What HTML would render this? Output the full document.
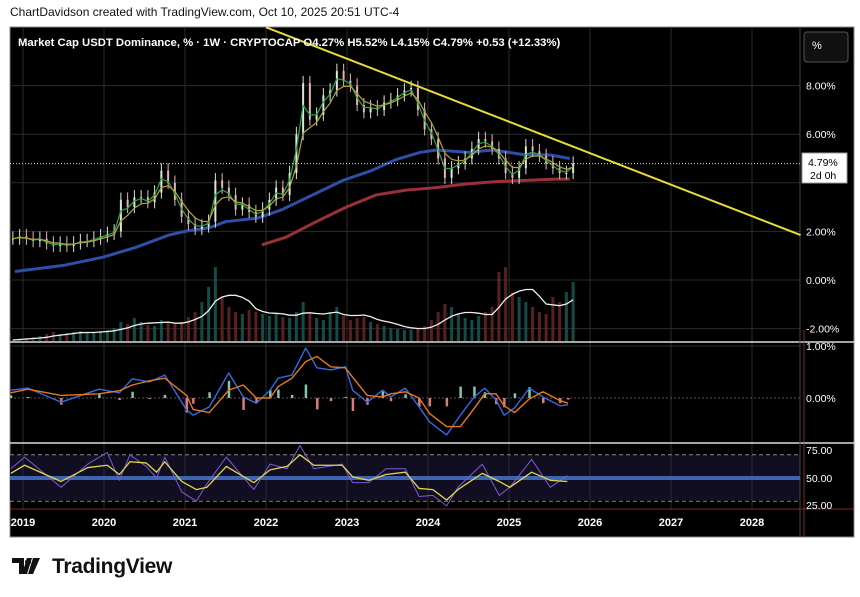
<!DOCTYPE html>
<html><head><meta charset="utf-8"><style>
body{margin:0;background:#fff;width:860px;height:597px;overflow:hidden;font-family:"Liberation Sans",sans-serif}
#hdr{position:absolute;left:10px;top:5px;font-size:12px;color:#111}
#logo{position:absolute;left:12px;top:555px;font-size:21px;font-weight:bold;color:#111;letter-spacing:-0.3px}
</style></head><body>
<div id="hdr">ChartDavidson created with TradingView.com, Oct 10, 2025 20:51 UTC-4</div>
<svg id="c" width="860" height="597" style="position:absolute;left:0;top:0"></svg>
<div id="logo"><svg width="36" height="18" style="vertical-align:-2px;margin-right:4px"><path d="M0 1h12v16h-5V6H0z M15 1h5l-5 16h-5z M21 1h7l-7 16h-5z" fill="#111"/><circle cx="16" cy="5" r="3" fill="#111"/></svg>TradingView</div>
<script>
const closes=[1.7,1.8,
1.7,1.6,1.7,1.5,1.4,1.5,1.4,1.5,1.6,1.6,1.7,1.8,
1.9,2.0,3.3,3.0,3.4,3.4,3.2,3.6,4.5,4.0,3.3,2.6,
2.3,2.1,2.2,2.4,4.1,3.8,3.5,2.9,3.1,2.8,2.6,2.9,
3.3,3.8,3.5,4.4,6.0,8.1,6.6,6.8,7.6,7.8,8.6,8.2,
8.0,7.2,6.9,7.1,7.0,7.3,7.4,7.6,7.8,7.9,7.0,6.2,
5.8,5.0,4.2,4.6,4.8,5.0,5.4,5.8,5.7,5.4,5.0,4.4,
4.2,4.6,5.5,5.3,5.1,4.8,4.6,4.4,4.4,4.79];
const volumes=[2,3,
4,5,6,8,10,8,9,10,11,9,10,11,
12,14,20,18,24,20,17,16,22,20,18,20,
25,30,40,55,75,45,35,30,28,32,30,28,
26,28,25,24,30,40,28,24,22,30,35,26,
22,24,25,20,18,16,14,13,12,12,14,16,
22,30,38,35,28,24,22,26,30,35,70,75,
50,45,40,35,30,28,45,40,50,60];
const blueDates=[2018.9,2019.5,2020.0,2020.4,2020.8,2021.0,2021.3,2021.5,2021.9,2022.2,2022.45,2022.7,2022.95,2023.3,2023.6,2023.9,2024.1,2024.5,2024.8,2025.2,2025.5,2025.75];
const blueVals=[0.35,0.6,0.95,1.35,1.85,2.0,2.15,2.4,2.55,2.9,3.3,3.7,4.1,4.5,4.95,5.25,5.35,5.25,5.35,5.15,5.15,5.0];
const redDates=[2021.95,2022.24,2022.62,2022.99,2023.36,2023.73,2024.1,2024.47,2024.84,2025.21,2025.58,2025.75];
const redVals=[1.45,1.75,2.4,3.0,3.5,3.7,3.8,3.95,4.05,4.1,4.15,4.15];
const trendDates=[2022.0,2028.6];
const trendVals=[10.4,1.85];
const macdDates=[2018.85,2019.06,2019.47,2019.94,2020.19,2020.35,2020.56,2020.75,2021.02,2021.10,2021.30,2021.54,2021.72,2021.88,2022.05,2022.15,2022.32,2022.49,2022.63,2022.80,2022.98,2023.07,2023.25,2023.44,2023.54,2023.72,2023.89,2024.02,2024.23,2024.40,2024.57,2024.70,2024.84,2024.94,2025.07,2025.25,2025.42,2025.63,2025.73];
const macdVals=[.15,.19,-.08,.17,.10,.37,.31,.44,-.23,-.33,-.17,.48,.02,-.10,.15,.38,.44,.96,.58,.54,.60,.15,-.08,.15,.02,.19,-.17,-.46,-.71,-.33,.02,.19,-.04,-.33,-.19,.19,.02,-.15,-.13];
const signalVals=[.10,.17,.05,.08,.14,.25,.33,.38,.05,-.22,-.28,.15,.25,0,0,.22,.38,.70,.80,.60,.58,.40,.05,.02,.08,.12,0,-.30,-.55,-.55,-.20,.08,.08,-.15,-.28,-.02,.12,-.05,-.10];
const rsiDates=[2018.85,2019.02,2019.47,2019.80,2020.04,2020.19,2020.32,2020.52,2020.65,2020.75,2020.96,2021.14,2021.27,2021.51,2021.85,2022.05,2022.26,2022.42,2022.59,2022.94,2023.07,2023.27,2023.48,2023.72,2023.89,2024.06,2024.23,2024.37,2024.67,2024.88,2025.01,2025.28,2025.51,2025.72];
const rsiMaVals=[54,61,47,59,61,53,64,63,55,64,47,40,42,60,46,57,60,70,61,61,51,48,53,55,41,40,31,40,54,47,42,55,48,47];
const rsiVals=[58,68,42,62,72,48,70,60,50,68,38,30,45,68,40,62,58,78,58,62,46,46,58,58,34,35,26,42,62,35,42,66,42,52];
const yearTicks=[2019,2020,2021,2022,2023,2024,2025,2026,2027,2028];
const priceTicks=[8,6,2,0,-2];

const NS="http://www.w3.org/2000/svg",svg=document.getElementById('c');
function el(t,a,p){const e=document.createElementNS(NS,t);for(const k in a)e.setAttribute(k,a[k]);(p||svg).appendChild(e);return e;}
const xOf=d=>104+(d-2020)*81;
const yP=v=>280-24.3*v;
const yM=v=>398-52*v;
const yR=v=>478-1.16*(v-50);
const monthDate=i=>2018+(10+i+0.5)/12;
const bg=el('rect',{x:10,y:27,width:844,height:510,fill:'#000',stroke:'#888','stroke-width':1});

el('rect',{x:10,y:455,width:790,height:45,fill:'#120e22'});
const defs=el('defs',{});
const cp=el('clipPath',{id:'mp'},defs);el('rect',{x:10,y:27,width:790,height:314},cp);
priceTicks.concat([4]).forEach(v=>el('line',{x1:10,x2:800,y1:yP(v),y2:yP(v),stroke:'#2b2b2b'}));
yearTicks.forEach(y=>{const x=xOf(y);el('line',{x1:x,x2:x,y1:27,y2:510,stroke:'#2b2b2b'});
 const t=el('text',{x:x,y:526,fill:'#fff','font-size':11,'font-weight':'bold','text-anchor':'middle'});t.textContent=y;
 });
el('line',{x1:10,x2:800,y1:yM(1),y2:yM(1),stroke:'#2b2b2b'});
el('line',{x1:10,x2:800,y1:yM(0),y2:yM(0),stroke:'#555','stroke-dasharray':'2 2'});
el('line',{x1:10,x2:854,y1:342,y2:342,stroke:'#ddd','stroke-width':1.5});
el('line',{x1:10,x2:854,y1:443,y2:443,stroke:'#ddd','stroke-width':1.5});
el('line',{x1:800,x2:800,y1:27,y2:537,stroke:'#444'});
el('line',{x1:804,x2:804,y1:330,y2:537,stroke:'#a33',"stroke-width":0.8});
el('line',{x1:10,x2:854,y1:509,y2:509,stroke:'#a33',"stroke-width":0.8});
const g=el('g',{'clip-path':'url(#mp)'});
const volMa=[];
volumes.forEach((v,i)=>{const s=volumes.slice(Math.max(0,i-5),i+1);volMa.push(s.reduce((a,b)=>a+b,0)/s.length);
 const up=i==0||closes[i]>=closes[i-1];const x=xOf(monthDate(i));
 const b=el('rect',{x:x-1.5,y:342-v,width:3,height:v,fill:up?'#1a5e57':'#6e2828',opacity:0.8},g);
 });
const vl=el('polyline',{points:volMa.map((v,i)=>xOf(monthDate(i))+','+(342-v)).join(' '),fill:'none',stroke:'#eee','stroke-width':1.3},g);

const line=(ds,vs,fy,col,w,name,par)=>{const p=el('polyline',{points:ds.map((d,i)=>xOf(d)+','+fy(vs[i])).join(' '),fill:'none',stroke:col,'stroke-width':w,'stroke-linejoin':'round'},par||svg);
 return p;};
line(blueDates,blueVals,yP,'#2e4fa8',3,'ma-blue-line',g);
line(redDates,redVals,yP,'#9b2f3a',3,'ma-red-line',g);
closes.forEach((c,i)=>{const o=i?closes[i-1]:c;const x=xOf(monthDate(i));const hi=Math.max(o,c)+0.3,lo=Math.min(o,c)-0.25;
 const col=c>=o?'#d9e6d9':'#e6b3b8';
 el('line',{x1:x,x2:x,y1:yP(hi),y2:yP(lo),stroke:col,'stroke-width':1},g);
 const r=el('rect',{x:x-1,y:yP(Math.max(o,c)),width:2,height:Math.max(1,Math.abs(yP(o)-yP(c))),fill:col},g);
 });
const ema=(a,n)=>{const k=2/(n+1);let e=a[0];return a.map(v=>e=v*k+e*(1-k));};
const md=closes.map((c,i)=>monthDate(i));
line(md,ema(closes,2),yP,'#2fa84a',1.2,'ema-fast-line',g);
line(md,ema(closes,4),yP,'#b5a23a',1.2,'ema-slow-line',g);
line(trendDates,trendVals,yP,'#e8dc3a',2,'trendline');
el('line',{x1:10,x2:800,y1:yP(4.79),y2:yP(4.79),stroke:'#ddd','stroke-dasharray':'1 2'});
macdDates.forEach((d,i)=>{const h=macdVals[i]-signalVals[i];const y0=yM(0),y1=yM(h);
 const r=el('rect',{x:xOf(d)-1,y:Math.min(y0,y1),width:2.5,height:Math.abs(y1-y0),fill:h>=0?'#8fd9c2':'#f08a8a',opacity:0.9});
 });
line(macdDates,macdVals,yM,'#3569e0',1.4,'macd-line');
line(macdDates,signalVals,yM,'#e8771e',1.4,'signal-line');
el('line',{x1:10,x2:800,y1:yR(70),y2:yR(70),stroke:'#888','stroke-dasharray':'4 3'});
el('line',{x1:10,x2:800,y1:yR(30),y2:yR(30),stroke:'#888','stroke-dasharray':'4 3'});
el('line',{x1:10,x2:800,y1:yR(50),y2:yR(50),stroke:'#3d64b0','stroke-width':4});
line(rsiDates,rsiVals,yR,'#7e5bd6',1,'rsi-line');
line(rsiDates,rsiMaVals,yR,'#e0d84a',1.3,'rsi-ma-line');
const lab=(txt,y,name)=>{const t=el('text',{x:806,y:y+4,fill:'#fff','font-size':10.5});t.textContent=txt;};
priceTicks.forEach(v=>lab(v.toFixed(2)+'%',yP(v),'price-tick-label'));
lab('1.00%',346,'macd-tick-label');lab('0.00%',398,'macd-tick-label');
[75,50,25].forEach(v=>lab(v.toFixed(2),yR(v)-(v==25?2:0)+(v==75?1:0),'rsi-tick-label'));
const pb=el('rect',{x:802,y:153,width:45,height:30,fill:'#fff',stroke:'#999'});
let t=el('text',{x:808,y:166,fill:'#000','font-size':10.5});t.textContent='4.79%';
t=el('text',{x:810,y:179,fill:'#000','font-size':10.5});t.textContent='2d 0h';
const btn=el('rect',{x:804,y:32,width:44,height:30,rx:3,fill:'#111',stroke:'#555'});
t=el('text',{x:812,y:49,fill:'#fff','font-size':11});t.textContent='%';
t=el('text',{x:18,y:46,fill:'#fff','font-size':11.3,'font-weight':'bold'});t.textContent='Market Cap USDT Dominance, % · 1W · CRYPTOCAP  O4.27%  H5.52%  L4.15%  C4.79%  +0.53 (+12.33%)';

</script>
</body></html>
